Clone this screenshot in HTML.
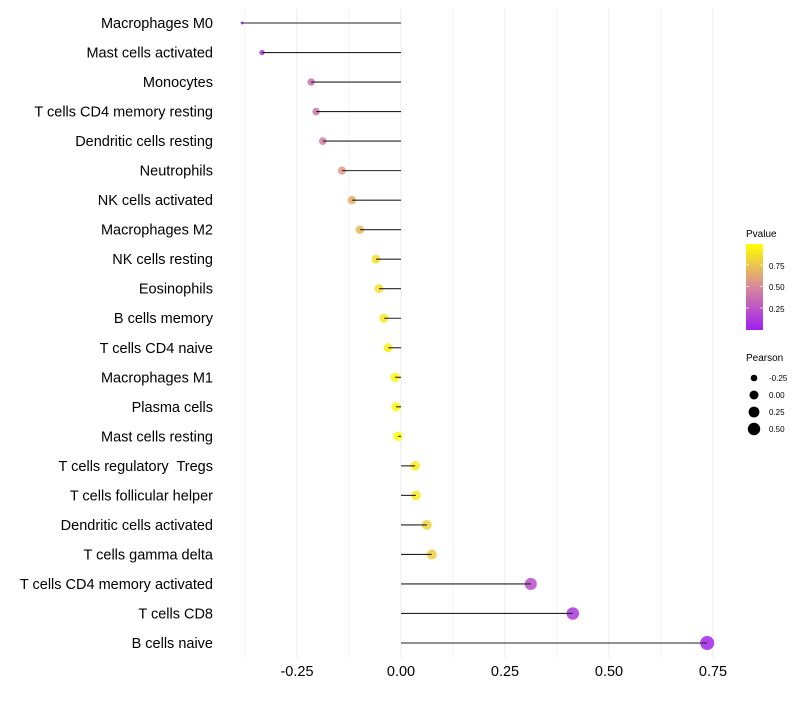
<!DOCTYPE html>
<html><head><meta charset="utf-8"><style>
body{margin:0;background:#fff;font-family:"Liberation Sans",sans-serif}
</style></head><body>
<svg id="chart" width="800" height="700" xmlns="http://www.w3.org/2000/svg" font-family="Liberation Sans, sans-serif">
<defs><linearGradient id="pg" x1="0" y1="1" x2="0" y2="0">
<stop offset="0" stop-color="#A01FF0"/><stop offset="0.5" stop-color="#D7889C"/><stop offset="1" stop-color="#FFFF00"/></linearGradient></defs>
<g id="grid"></g><g id="points"></g><g id="stems"></g><g id="labels"></g>
<g>
<text x="746" y="237" font-size="10" fill="#000">Pvalue</text>
<rect x="746" y="244" width="17" height="86" fill="url(#pg)"/>
<g stroke="#fff" stroke-opacity="0.7"><line x1="746" x2="749" y1="265" y2="265"/><line x1="760" x2="763" y1="265" y2="265"/><line x1="746" x2="749" y1="286.5" y2="286.5"/><line x1="760" x2="763" y1="286.5" y2="286.5"/><line x1="746" x2="749" y1="308" y2="308"/><line x1="760" x2="763" y1="308" y2="308"/></g>
<text x="769" y="269" font-size="8">0.75</text><text x="769" y="290" font-size="8">0.50</text><text x="769" y="312" font-size="8">0.25</text>
</g>
<g>
<text x="746" y="361" font-size="10">Pearson</text>
<circle cx="754" cy="378" r="3.3"/><text x="769" y="381" font-size="8">-0.25</text>
<circle cx="754" cy="395" r="4.5"/><text x="769" y="398" font-size="8">0.00</text>
<circle cx="754" cy="412" r="5.4"/><text x="769" y="415" font-size="8">0.25</text>
<circle cx="754" cy="429" r="6.2"/><text x="769" y="432" font-size="8">0.50</text>
</g>
</svg>
<script>
const cells=["Macrophages M0","Mast cells activated","Monocytes","T cells CD4 memory resting","Dendritic cells resting","Neutrophils","NK cells activated","Macrophages M2","NK cells resting","Eosinophils","B cells memory","T cells CD4 naive","Macrophages M1","Plasma cells","Mast cells resting","T cells regulatory  Tregs","T cells follicular helper","Dendritic cells activated","T cells gamma delta","T cells CD4 memory activated","T cells CD8","B cells naive"];
const pearson=[-0.382,-0.334,-0.216,-0.204,-0.188,-0.142,-0.118,-0.099,-0.060,-0.053,-0.041,-0.031,-0.014,-0.012,-0.007,0.034,0.036,0.062,0.074,0.312,0.413,0.736];
const pvalue=[0.05,0.12,0.38,0.42,0.46,0.57,0.66,0.72,0.86,0.87,0.91,0.93,0.97,0.97,0.99,0.91,0.91,0.82,0.8,0.22,0.12,0.03];
const ticks=[-0.25,0,0.25,0.5,0.75];
const tickLabels=["-0.25","0.00","0.25","0.50","0.75"];
const X=v=>401+v*416;
const Y=i=>23+i*(620/21);
const SK=[[-0.382,1.5],[-0.334,2.7],[-0.216,3.7],[-0.1,4.3],[0,4.7],[0.3,6.0],[0.736,7.0]];
function R(v){if(v<=SK[0][0])return SK[0][1];for(let k=1;k<SK.length;k++){if(v<=SK[k][0]){const a=SK[k-1],b=SK[k];return a[1]+(b[1]-a[1])*(v-a[0])/(b[0]-a[0]);}}return SK[SK.length-1][1];}
function col(p){const s=[[160,31,240],[215,136,156],[255,255,0]];let a,b,t;if(p<0.5){a=s[0];b=s[1];t=p/0.5}else{a=s[1];b=s[2];t=(p-0.5)/0.5}return `rgb(${a.map((c,k)=>Math.round(c+(b[k]-c)*t)).join(',')})`}
const NS="http://www.w3.org/2000/svg";
function mk(tag,attrs,parent){const e=document.createElementNS(NS,tag);for(const k in attrs)e.setAttribute(k,attrs[k]);parent.appendChild(e);return e}
const grid=document.getElementById('grid'),points=document.getElementById('points'),stems=document.getElementById('stems'),labels=document.getElementById('labels');
for(let v=-0.375;v<=0.76;v+=0.125){const l=mk('line',{x1:X(v),x2:X(v),y1:8,y2:658,stroke:'#ebebeb','stroke-width':Math.abs(v*4-Math.round(v*4))<1e-6?1:0.6},grid);

}
ticks.forEach((t,i)=>{const tx=mk('text',{x:X(t),y:676,'font-size':14.5,'text-anchor':'middle',fill:'#000'},labels);tx.textContent=tickLabels[i];

});
cells.forEach((c,i)=>{const y=Y(i);
const tx=mk('text',{x:213,y:y+5,'font-size':14.5,'text-anchor':'end',fill:'#000'},labels);tx.textContent=c;
tx.setAttribute('xml:space','preserve');
tx.style.whiteSpace='pre';


const ci=mk('circle',{cx:X(pearson[i]),cy:y,r:R(pearson[i]),fill:col(pvalue[i]),'fill-opacity':0.85},points);


const ln=mk('line',{x1:X(0),x2:X(pearson[i]),y1:y,y2:y,stroke:'#222','stroke-width':1.1},stems);

});
</script>
</body></html>
